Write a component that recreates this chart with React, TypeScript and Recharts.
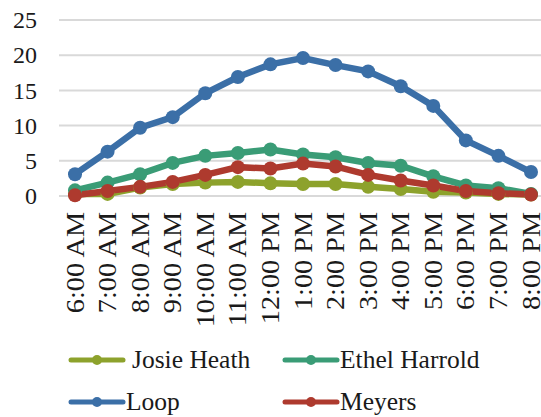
import { LineChart, Line, XAxis, YAxis, CartesianGrid, Legend } from 'recharts'

const hours = ['6:00 AM', '7:00 AM', '8:00 AM', '9:00 AM', '10:00 AM', '11:00 AM', '12:00 PM', '1:00 PM', '2:00 PM', '3:00 PM', '4:00 PM', '5:00 PM', '6:00 PM', '7:00 PM', '8:00 PM']
const josieHeath = [0.3, 0.3, 1.2, 1.7, 1.9, 2.0, 1.8, 1.7, 1.7, 1.3, 1.0, 0.6, 0.5, 0.3, 0.2]
const ethelHarrold = [0.8, 1.9, 3.1, 4.7, 5.7, 6.1, 6.6, 5.9, 5.5, 4.7, 4.3, 2.8, 1.5, 1.1, 0.3]
const loop = [3.1, 6.3, 9.7, 11.2, 14.6, 16.9, 18.7, 19.6, 18.6, 17.7, 15.6, 12.8, 7.9, 5.7, 3.4]
const meyers = [0.1, 0.7, 1.3, 2.0, 3.0, 4.1, 3.9, 4.6, 4.2, 3.0, 2.2, 1.5, 0.7, 0.4, 0.2]
const yTicks = [0, 5, 10, 15, 20, 25]

const SERIES = [
  { key: 'josie', name: 'Josie Heath', color: '#8da22c' },
  { key: 'ethel', name: 'Ethel Harrold', color: '#3a9c76' },
  { key: 'loop', name: 'Loop', color: '#3b6fa7' },
  { key: 'meyers', name: 'Meyers', color: '#ae3a2e' },
]

const data = hours.map((h, i) => ({
  hour: h,
  josie: josieHeath[i],
  ethel: ethelHarrold[i],
  loop: loop[i],
  meyers: meyers[i],
}))

const FONT = 'Liberation Serif'
const TEXT = '#1a1a1a'

function XTick({ x, y, payload }: any) {
  return (
    <g transform={`translate(${x},${y})`}>
      <text transform="rotate(-90) scale(1.13,1)" textAnchor="end" dy="0.34em" style={{ fontFamily: FONT }} fontSize={25} fill={TEXT}>
        {payload.value}
      </text>
    </g>
  )
}

function YTick({ x, y, payload }: any) {
  return (
    <text x={x} y={y} dy="0.34em" textAnchor="end" style={{ fontFamily: FONT }} fontSize={24} fill={TEXT}>
      {payload.value}
    </text>
  )
}

function LegendIcon({ color }: { color: string }) {
  return (
    <svg width={58} height={14} style={{ display: 'block' }}>
      <line x1={3} y1={7} x2={55} y2={7} stroke={color} strokeWidth={5} strokeLinecap="round" />
      <circle cx={29} cy={7} r={5} fill={color} />
    </svg>
  )
}

function ChartLegend() {
  const cols = [68, 282]
  return (
    <div style={{ position: 'relative', width: 541, height: 84, fontFamily: FONT, fontSize: 25.5, color: TEXT }}>
      {SERIES.map((s, i) => (
        <div
          key={s.key}
          style={{
            position: 'absolute',
            left: cols[i % 2],
            top: Math.floor(i / 2) * 42,
            height: 42,
            display: 'flex',
            alignItems: 'center',
            whiteSpace: 'nowrap',
          }}
        >
          <LegendIcon color={s.color} />
          <span style={{ marginLeft: i === 0 ? 6 : 0 }}>{s.name}</span>
        </div>
      ))}
    </div>
  )
}

export default function App() {
  return (
    <div style={{ position: 'absolute', left: 0, top: 0, width: 541, height: 417, background: '#fff', fontFamily: FONT }}>
      <LineChart width={541} height={417} data={data} margin={{ top: 20, right: 0, left: 0, bottom: 0 }}>
        <CartesianGrid vertical={false} stroke="#d9d9d9" strokeWidth={2} />
        <XAxis
          dataKey="hour"
          interval={0}
          height={137}
          axisLine={false}
          tickLine={false}
          tickSize={0}
          tickMargin={16}
          padding={{ left: 16, right: 10 }}
          tick={<XTick />}
        />
        <YAxis
          domain={[0, 25]}
          ticks={yTicks}
          width={59}
          axisLine={false}
          tickLine={false}
          tickSize={0}
          tickMargin={22}
          tick={<YTick />}
        />
        <Legend verticalAlign="bottom" content={() => <ChartLegend />} wrapperStyle={{ left: 0, top: 339, width: 541, height: 84 }} />
        {SERIES.map(s => (
          <Line
            key={s.key}
            dataKey={s.key}
            name={s.name}
            stroke={s.color}
            strokeWidth={6.5}
            dot={{ r: 7, fill: s.color, stroke: s.color, strokeWidth: 0 }}
            isAnimationActive={false}
          />
        ))}
      </LineChart>
    </div>
  )
}
